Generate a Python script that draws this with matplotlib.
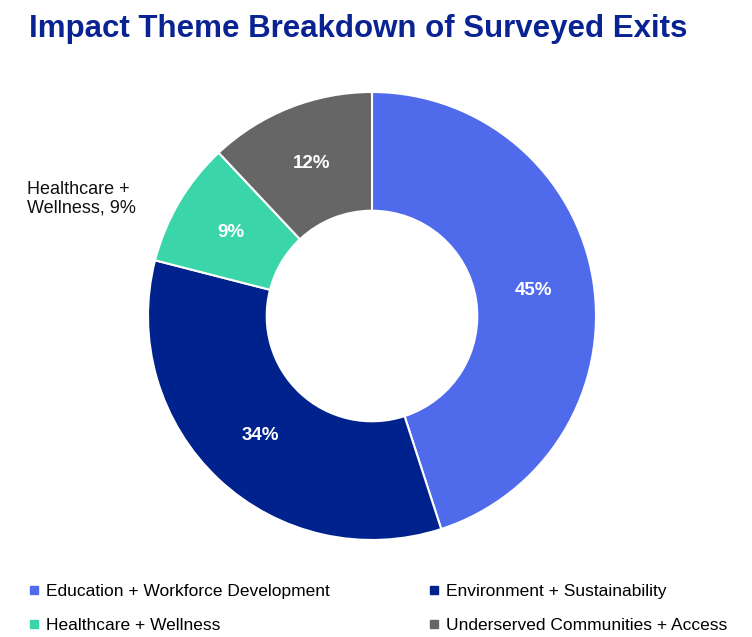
import numpy as np
import matplotlib.pyplot as plt
import matplotlib as mpl
from matplotlib.lines import Line2D

mpl.rcParams.update({
    "font.family": ["Liberation Sans", "DejaVu Sans"],
})

themes = ["Education + Workforce Development", "Environment + Sustainability",
          "Healthcare + Wellness", "Underserved Communities + Access"]
shares = [45, 34, 9, 12]
colors = ["#4F6BEC", "#00228C", "#3AD5A9", "#666667"]

W, H = 752, 637
fig = plt.figure(figsize=(W / 100, H / 100), dpi=100)

# pie box: centre (372, 316) px from top, radius 224 px
cx, cy, r = 372, 316, 224
ax = fig.add_axes([(cx - r) / W, 1 - (cy + r) / H, 2 * r / W, 2 * r / H])

wedges, texts, autotexts = ax.pie(
    shares, colors=colors, startangle=90, counterclock=False, radius=1,
    autopct=lambda p: f"{p:.0f}%", pctdistance=0.73,
    wedgeprops=dict(width=0.53, edgecolor="white", linewidth=1.5),
    textprops=dict(color="white", fontsize=13.5, fontweight="bold"))
ax.set_xlim(-1, 1)
ax.set_ylim(-1, 1)
ax.set_aspect("equal")
ax.axis("off")

# outside label for the small healthcare slice
fig.text(27 / W, 1 - 199 / H, "Healthcare +\nWellness, 9%", ha="left", va="center",
         fontsize=13, color="#111111", linespacing=1.15)

fig.text(358 / W, 1 - 29 / H, "Impact Theme Breakdown of Surveyed Exits",
         ha="center", va="center", fontsize=22.5, fontweight="bold", color="#0A2393")

# legend filled row by row: reorder for matplotlib's column-major layout
order = [0, 2, 1, 3]
handles = [Line2D([0], [0], marker="s", linestyle="none", markersize=6,
                  markerfacecolor=colors[i], markeredgecolor=colors[i]) for i in order]
fig.legend(handles, [themes[i] for i in order], loc="lower left",
           bbox_to_anchor=(22 / W, -0.004), borderaxespad=0.0,
           ncol=2, frameon=False, fontsize=12.5, handlelength=0.6, handletextpad=0.4,
           columnspacing=5.7, labelspacing=1.05)

fig.savefig("out.png", dpi=100)
